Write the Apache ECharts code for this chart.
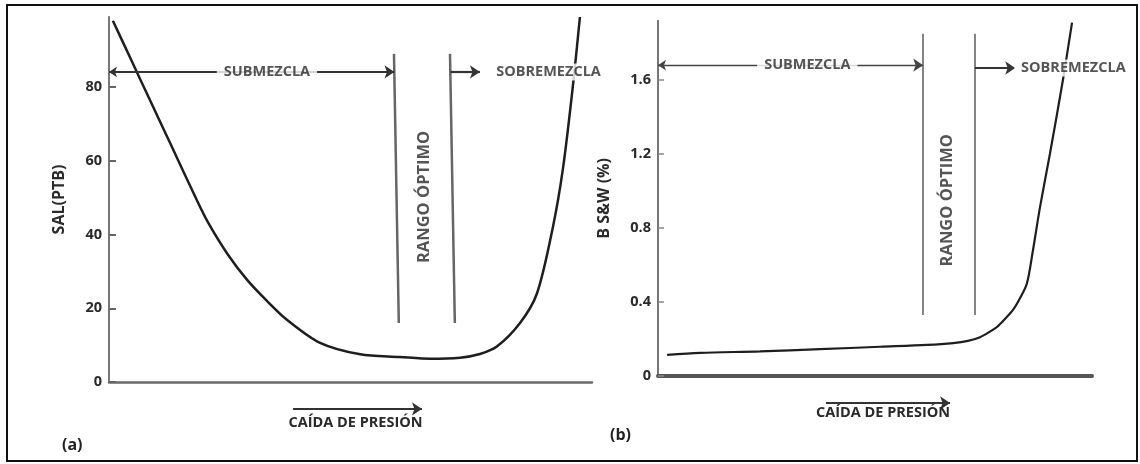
<!DOCTYPE html>
<html><head><meta charset="utf-8">
<script src="https://cdn.jsdelivr.net/npm/echarts@6/dist/echarts.min.js"></script>
<style>html,body{margin:0;padding:0;background:#fff}#c{width:1140px;height:464px}</style>
</head><body><div id="c"></div>
<script>
// ---------------- Panel (a): SAL (PTB) vs caída de presión (x in relative units 0-100) ----------------
const saltX = [0.8, 4.8, 8.5, 12.8, 18.2, 20.5, 24.6, 28.6, 32.7, 36.9, 43.7, 52, 60.2, 66.5, 72.7, 76.8, 80.3, 85.1, 88.6, 91.9, 94, 96.1, 97.5];
const saltY = [98, 86.8, 76.4, 64.4, 49.3, 43.3, 34.6, 27.7, 22, 16.8, 10.6, 7.5, 6.8, 6.3, 6.6, 7.6, 9.6, 16, 24, 42, 58, 81, 99];
const saltTicks = [0, 20, 40, 60, 80];
const optimoTopA = [59.0, 70.6];     // x of optimum-range boundaries (top)
const optimoBotA = [60.0, 71.6];     // x of optimum-range boundaries (bottom)
const optimoSpanA = [89, 16];        // vertical extent of the boundaries (PTB)
const bandLevelA = 84.1;             // level of SUBMEZCLA / SOBREMEZCLA arrows
const sobreEndA = 76.8;
const pressureA = [38.1, 64.8, -7.3]; // x start, x end, level

// ---------------- Panel (b): B S&W (%) ----------------
const bswX = [2.1, 9.7, 23.5, 37.3, 51.2, 62, 68, 71.4, 74.2, 76.5, 78.1, 80, 81.8, 83.4, 85, 86.4, 88, 90.3, 93.3, 95.4];
const bswY = [0.114, 0.125, 0.133, 0.145, 0.158, 0.168, 0.178, 0.19, 0.21, 0.24, 0.265, 0.31, 0.357, 0.42, 0.5, 0.68, 0.91, 1.2, 1.6, 1.91];
const bswTicks = [0, 0.4, 0.8, 1.2, 1.6];
const optimoB = [61.1, 73.0];
const optimoSpanB = [1.85, 0.33];
const bandLevelB = 1.68;
const sobreLevelB = 1.665;
const sobreEndB = 82.3;
const pressureB = [38.7, 67.3, -0.146];

// ---------------- Texts ----------------
const TXT_SUB = 'SUBMEZCLA', TXT_SOBRE = 'SOBREMEZCLA', TXT_OPT = 'RANGO ÓPTIMO', TXT_PRES = 'CAÍDA DE PRESIÓN';

const FONT = "'Open Sans', 'Liberation Sans', sans-serif";
const txt = { fontFamily: FONT, fontSize: 14.5, fontWeight: 'bold', color: '#2a2a2a' };
const zip = (xs, ys) => xs.map((x, i) => [x, ys[i]]);

function labelSeries(gi, items) {
  return {
    type: 'scatter', xAxisIndex: gi, yAxisIndex: gi, symbolSize: 1, z: 10, silent: true,
    itemStyle: { color: 'rgba(0,0,0,0)' },
    data: items,
    label: { show: true, position: 'inside', formatter: '{b}', backgroundColor: '#fff', padding: [1, 7], ...txt }
  };
}
function segSeries(gi, data, symbols, color, width) {
  return {
    type: 'lines', coordinateSystem: 'cartesian2d', xAxisIndex: gi, yAxisIndex: gi, clip: false, z: 4, silent: true,
    symbol: symbols, symbolSize: [8, 10],
    lineStyle: { color: color, width: width, opacity: 1, curveness: 0 },
    data: data.map(c => ({ coords: c }))
  };
}

const chart = echarts.init(document.getElementById('c'));
chart.setOption({
  backgroundColor: '#fff',
  animation: false,
  grid: [
    { left: 109, top: 17, width: 483, height: 365, containLabel: false, outerBoundsMode: 'none' },
    { left: 658, top: 20.8, width: 434, height: 355.2, containLabel: false, outerBoundsMode: 'none' }
  ],
  xAxis: [
    { gridIndex: 0, type: 'value', min: 0, max: 100,
      axisLine: { show: true, lineStyle: { color: '#6a6a6a', width: 2.5 } }, axisTick: { show: false }, axisLabel: { show: false }, splitLine: { show: false },
      name: TXT_PRES, nameLocation: 'middle', nameGap: 33, nameTextStyle: { ...txt, padding: [0, 0, 0, 10] } },
    { gridIndex: 1, type: 'value', min: 0, max: 100,
      axisLine: { show: true, lineStyle: { color: '#555', width: 4 } }, axisTick: { show: false }, axisLabel: { show: false }, splitLine: { show: false },
      name: TXT_PRES, nameLocation: 'middle', nameGap: 29, nameTextStyle: { ...txt, padding: [0, 0, 0, 16] } }
  ],
  yAxis: [
    { gridIndex: 0, type: 'value', min: 0, max: 99,
      axisLine: { show: true, lineStyle: { color: '#777', width: 2 } },
      axisTick: { show: true, inside: true, length: 7, customValues: saltTicks, lineStyle: { color: '#666', width: 2 } },
      axisLabel: { customValues: saltTicks, margin: 7, ...txt }, splitLine: { show: false },
      name: 'SAL(PTB)', nameLocation: 'middle', nameGap: 42, nameTextStyle: { ...txt, fontSize: 16 } },
    { gridIndex: 1, type: 'value', min: 0, max: 1.92,
      axisLine: { show: true, lineStyle: { color: '#777', width: 2 } },
      axisTick: { show: true, inside: true, length: 6, customValues: bswTicks, lineStyle: { color: '#888', width: 1.5 } },
      axisLabel: { customValues: bswTicks, margin: 7, ...txt }, splitLine: { show: false },
      name: 'B S&W (%)', nameLocation: 'middle', nameGap: 46, nameTextStyle: { ...txt, fontSize: 16 } }
  ],
  series: [
    { type: 'line', xAxisIndex: 0, yAxisIndex: 0, data: zip(saltX, saltY), smooth: 0.3, symbol: 'none', z: 3,
      lineStyle: { color: '#1e1e1e', width: 2.5 } },
    { type: 'line', xAxisIndex: 1, yAxisIndex: 1, data: zip(bswX, bswY), smooth: 0.3, symbol: 'none', z: 3,
      lineStyle: { color: '#1e1e1e', width: 2.2 } },
    // optimum range boundaries
    segSeries(0, [[[optimoTopA[0], optimoSpanA[0]], [optimoBotA[0], optimoSpanA[1]]],
                  [[optimoTopA[1], optimoSpanA[0]], [optimoBotA[1], optimoSpanA[1]]]], ['none', 'none'], '#666', 2.5),
    segSeries(1, [[[optimoB[0], optimoSpanB[0]], [optimoB[0], optimoSpanB[1]]],
                  [[optimoB[1], optimoSpanB[0]], [optimoB[1], optimoSpanB[1]]]], ['none', 'none'], '#777', 1.8),
    // SUBMEZCLA double arrows
    segSeries(0, [[[0, bandLevelA], [optimoTopA[0] + 0.1, bandLevelA]]], ['arrow', 'arrow'], '#333', 1.8),
    segSeries(1, [[[0, bandLevelB], [optimoB[0], bandLevelB]]], ['arrow', 'arrow'], '#444', 1.4),
    // SOBREMEZCLA and pressure-drop arrows
    segSeries(0, [[[optimoTopA[1] + 0.1, bandLevelA], [sobreEndA, bandLevelA]],
                  [[pressureA[0], pressureA[2]], [pressureA[1], pressureA[2]]]], ['none', 'arrow'], '#333', 2.2),
    segSeries(1, [[[optimoB[1], sobreLevelB], [sobreEndB, sobreLevelB]],
                  [[pressureB[0], pressureB[2]], [pressureB[1], pressureB[2]]]], ['none', 'arrow'], '#333', 2.2),
    labelSeries(0, [
      { value: [32.7, bandLevelA], name: TXT_SUB },
      { value: [91.0, bandLevelA], name: TXT_SOBRE },
      { value: [65.2, 50.2], name: TXT_OPT, label: { rotate: 90, fontSize: 16.5, padding: 0 } }
    ]),
    labelSeries(1, [
      { value: [34.4, bandLevelB], name: TXT_SUB },
      { value: [95.7, sobreLevelB], name: TXT_SOBRE },
      { value: [66.6, 0.95], name: TXT_OPT, label: { rotate: 90, fontSize: 16.5, padding: 0 } }
    ])
  ],
  graphic: [
    { type: 'rect', shape: { x: 7, y: 5, width: 1130, height: 456 }, style: { fill: 'none', stroke: '#111', lineWidth: 2 }, silent: true },
    { type: 'text', x: 62, y: 445, style: { text: '(a)', fontFamily: FONT, fontSize: 16, fontWeight: 'bold', fill: '#222', verticalAlign: 'middle' } },
    { type: 'text', x: 610, y: 435, style: { text: '(b)', fontFamily: FONT, fontSize: 16, fontWeight: 'bold', fill: '#222', verticalAlign: 'middle' } }
  ]
});
</script>
</body></html>
